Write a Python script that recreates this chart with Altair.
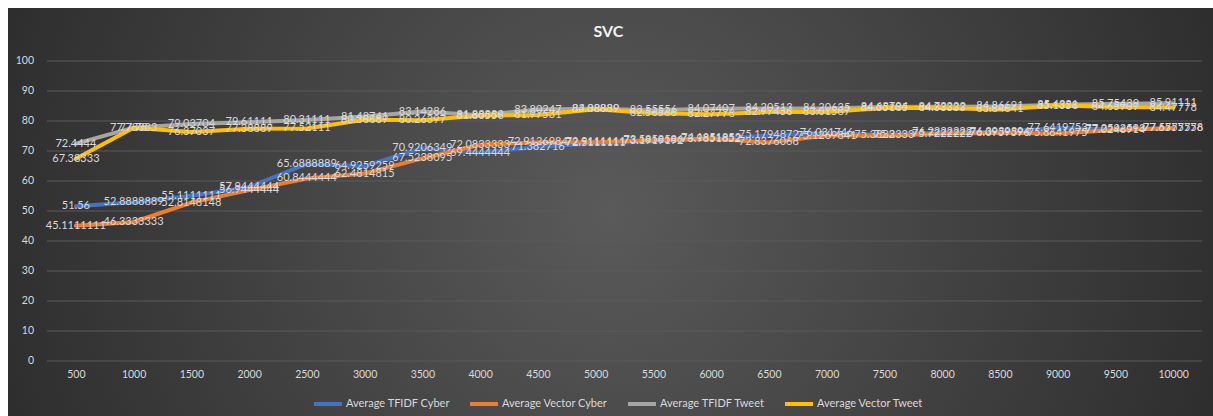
import altair as alt
import pandas as pd

# Training-set sizes on the category axis
sizes = [500, 1000, 1500, 2000, 2500, 3000, 3500, 4000, 4500, 5000,
         5500, 6000, 6500, 7000, 7500, 8000, 8500, 9000, 9500, 10000]

series_names = ["Average TFIDF Cyber", "Average Vector Cyber",
                "Average TFIDF Tweet", "Average Vector Tweet"]
series_colors = ["#4472C4", "#ED7D31", "#A5A5A5", "#FFC000"]

# Average SVC accuracy per feature set and dataset
tfidf_cyber = [51.56, 52.8888889, 55.1111111, 57.9444444, 65.6888889, 64.9259259,
               70.9206349, 69.4444444, 71.382716, 72.5111111, 73.1919192, 73.9851852,
               75.1794872, 76.031746, 75.3833333, 76.2222222, 76.3939394, 77.6419753,
               77.2592593, 77.6555556]
vector_cyber = [45.1111111, 46.3333333, 52.8148148, 56.9444444, 60.8444444, 62.4814815,
                67.5238095, 72.0833333, 72.9126984, 72.9111111, 73.5858586, 74.1851852,
                72.8376068, 75.1269841, 75.2, 75.7222222, 76.0959596, 75.8641975,
                77.0246914, 77.5777778]
tfidf_tweet = [72.4444, 77.78, 79.03704, 79.61111, 80.31111, 81.48741, 83.14286,
               81.88889, 83.80247, 84.08889, 83.55556, 84.07407, 84.20513, 84.20635,
               84.68704, 84.72222, 84.86691, 85.4321, 85.75439, 85.91111]
vector_tweet = [67.38333, 77.78333, 76.37037, 77.38889, 77.52111, 80.38889, 80.26397,
                81.80556, 81.97531, 83.88889, 82.56566, 82.27778, 82.97436, 83.01587,
                84.35185, 84.33333, 83.84641, 85.1358, 84.65909, 84.47778]

# Value-axis ticks (gridlines and labels every 10 %)
y_ticks = list(range(0, 101, 10))

size_labels = [str(s) for s in sizes]
rows = []
for name, values in zip(series_names, [tfidf_cyber, vector_cyber, tfidf_tweet, vector_tweet]):
    for s, v in zip(size_labels, values):
        rows.append({"size": s, "series": name, "value": v, "label": str(v)})
df = pd.DataFrame(rows)
ticks_df = pd.DataFrame({"value": y_ticks, "label": [str(t) for t in y_ticks]})

W, H = 1155, 300
PAD = {"left": 47, "top": 61, "right": 11, "bottom": 55}
FONT = "Lato"
TEXT = "#d9d9d9"

y_scale = alt.Scale(domain=[0, 100], nice=False)
# The value axis itself stays silent; its labels and gridlines are drawn as layers
y_axis = alt.Axis(title=None, labels=False, ticks=False, domain=False, grid=False)
x_axis = alt.Axis(title=None, labelAngle=0, ticks=False, domain=False,
                  labelPadding=8, labelColor=TEXT, labelFont=FONT,
                  labelFontSize=10.5, grid=False, zindex=1, labelOverlap=False)
x_scale = alt.Scale(type="point", padding=0.5)

# Dark radial backdrop behind the whole chart area
backdrop = alt.Chart(pd.DataFrame({"k": [0]})).mark_rect(
    fill={
        "gradient": "radial",
        "x1": 0.5, "y1": 0.5, "r1": 0,
        "x2": 0.5, "y2": 0.5, "r2": 0.62,
        "stops": [
            {"offset": 0, "color": "#5a5a5a"},
            {"offset": 1, "color": "#262626"},
        ],
    },
    clip=False,
).encode(
    x=alt.value(-39), x2=alt.value(W + PAD["right"]),
    y=alt.value(-53), y2=alt.value(H + PAD["bottom"]),
)

# Horizontal gridlines, drawn above the backdrop and below the series
grid = alt.Chart(ticks_df).mark_rule(color="#5b5b5b", strokeWidth=1).encode(
    y=alt.Y("value:Q", scale=y_scale, axis=y_axis),
    x=alt.value(0), x2=alt.value(W),
)

# Value-axis labels, right-aligned left of the plot
y_labels = alt.Chart(ticks_df).mark_text(
    font=FONT, fontSize=10.5, color=TEXT, align="right", baseline="middle",
).encode(
    y=alt.Y("value:Q", scale=y_scale, axis=y_axis),
    x=alt.value(-13),
    text="label:N",
)

lines = alt.Chart(df).mark_line(strokeWidth=4, strokeCap="round", strokeJoin="round").encode(
    x=alt.X("size:O", sort=size_labels, scale=x_scale, axis=x_axis),
    y=alt.Y("value:Q", scale=y_scale, axis=y_axis),
    color=alt.Color(
        "series:N",
        scale=alt.Scale(domain=series_names, range=series_colors),
        legend=alt.Legend(
            title=None, orient="none", direction="horizontal", columns=4,
            legendX=265, legendY=327, symbolType="stroke",
            symbolStrokeWidth=4, symbolSize=784, labelColor=TEXT,
            labelFont=FONT, labelFontSize=11, columnPadding=12, labelOffset=2,
        ),
    ),
)

value_labels = alt.Chart(df).mark_text(
    font=FONT, fontSize=11, color=TEXT, align="center", baseline="middle",
).encode(
    x=alt.X("size:O", sort=size_labels, scale=x_scale, axis=x_axis),
    y=alt.Y("value:Q", scale=y_scale, axis=y_axis),
    text="label:N",
)

# The title is offset from the layer bounds, which include the backdrop
# reaching above the plot; dy brings it back down.
chart = alt.layer(backdrop, grid, y_labels, lines, value_labels).properties(
    width=W,
    height=H,
    padding=PAD,
    autosize=alt.AutoSizeParams(type="none"),
    title=alt.TitleParams(
        text="SVC", anchor="middle", frame="group", color="#f2f2f2", font=FONT,
        fontSize=16, fontWeight="bold", dx=-16, dy=70, offset=22, baseline="bottom",
    ),
).configure(
    background="white",
).configure_view(
    strokeWidth=0,
)

chart.save("out.html", embed_options={"renderer": "svg", "actions": False})
